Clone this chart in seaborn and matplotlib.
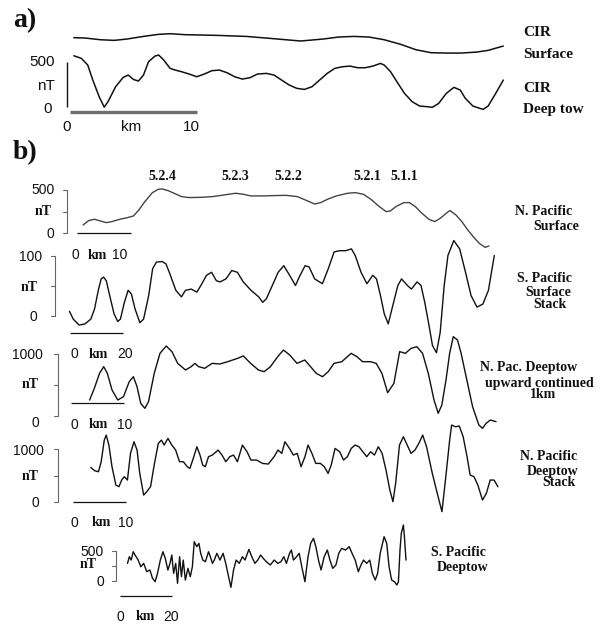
import matplotlib
matplotlib.use("Agg")
import matplotlib.pyplot as plt
import pandas as pd
import seaborn as sns

W, H = 605, 628

# ---------------- a) Central Indian Ridge ----------------
cir_surf_km = [0.3, 1.2, 2.4, 3.5, 4.5, 5.8, 7.0, 7.9, 9.1, 11.5, 13.9, 15.8, 18.2,
               20.0, 21.2, 22.4, 23.6, 24.8, 26.1, 27.3, 28.5, 29.7, 30.9, 32.1, 33.0, 34.2]
cir_surf_nt = [67, 63, 44, 37, 52, 81, 104, 111, 100, 93, 81, 59, 30,
               52, 74, 81, 74, 44, -7, -67, -100, -104, -104, -93, -74, -26]

cir_deep_km = [0.3, 0.9, 1.4, 1.8, 2.3, 2.7, 3.0, 3.6, 4.2, 4.6,
               5.0, 5.4, 5.8, 6.2, 6.7, 7.0, 7.4, 7.9, 8.3, 8.8,
               9.4, 10.0, 10.6, 11.2, 11.8, 12.4, 13.0, 13.6, 14.2, 14.8,
               15.5, 16.1, 16.7, 17.3, 17.9, 18.5, 19.1, 19.7, 20.3, 20.9,
               21.5, 22.1, 22.7, 23.3, 23.9, 24.5, 24.8, 25.3, 25.8, 26.4,
               27.0, 27.6, 28.2, 28.6, 29.1, 29.7, 30.3, 30.8, 31.2, 31.8,
               32.6, 33.0, 33.6, 34.2]
cir_deep_nt = [566, 537, 463, 296, 111, -5, 56, 222, 326, 352,
               303, 285, 352, 500, 562, 574, 518, 426, 407, 389,
               363, 333, 363, 400, 407, 377, 333, 307, 322, 363,
               370, 352, 296, 241, 204, 192, 222, 296, 370, 426,
               444, 451, 433, 433, 451, 481, 463, 389, 278, 148,
               56, 7, 0, -7, 37, 148, 215, 185, 93, 7,
               -30, 7, 148, 296]

# ---------------- b) Pacific profiles ----------------
npac_surf_km = [1.1, 2.1, 3.2, 4.3, 5.4, 6.4, 7.9, 9.3, 10.4, 11.4,
                12.5, 13.9, 15.0, 15.7, 16.8, 17.9, 19.3, 20.7, 22.9, 25.0,
                27.1, 29.3, 30.7, 32.1, 34.3, 36.4, 38.6, 40.7, 42.9, 43.9,
                45.0, 46.4, 47.9, 50.0, 51.4, 52.9, 54.3, 55.7, 57.1, 57.9,
                58.9, 60.4, 61.4, 62.5, 63.6, 65.0, 66.1, 67.1, 68.6, 68.9,
                70.0, 71.1, 72.1, 73.2, 74.3, 75.4, 76.1]
npac_surf_nt = [96, 146, 162, 142, 123, 135, 162, 181, 200, 269,
                365, 469, 508, 512, 492, 462, 423, 412, 415, 423,
                442, 462, 450, 431, 431, 435, 438, 423, 365, 338,
                354, 396, 431, 462, 469, 450, 392, 315, 250, 258,
                308, 354, 354, 308, 238, 162, 135, 173, 250, 262,
                212, 135, 46, -38, -115, -162, -146]

spac_stack_km = [0.0, 1.4, 3.6, 5.8, 8.0, 9.4, 10.9, 11.9, 12.8, 13.8,
                 15.2, 16.7, 18.1, 19.1, 20.6, 22.0, 23.2, 24.6, 26.4, 27.8,
                 29.7, 31.2, 32.6, 34.8, 36.2, 37.7, 39.9, 42.0, 43.5, 45.7,
                 47.8, 49.3, 51.4, 53.3, 55.1, 56.5, 58.7, 60.9, 63.0, 65.2,
                 68.1, 71.0, 72.5, 73.9, 76.1, 78.3, 80.4, 82.6, 84.8, 86.2,
                 88.4, 89.9, 92.0, 94.9, 97.1, 99.3, 101.4, 103.6, 105.8, 107.2,
                 109.4, 111.6, 113.8, 115.2, 116.7, 118.1, 119.6, 121.0, 123.2, 124.6,
                 126.8, 128.3, 130.4, 131.9, 133.3, 134.8, 136.2, 137.7, 139.1, 140.6,
                 142.0, 144.2, 146.4, 148.6, 150.7, 152.9, 155.1, 157.2, 159.4]
spac_stack_nt = [7, -6, -16, -14, -6, 11, 44, 61, 64, 58,
                 31, 3, -10, -6, 22, 42, 36, 11, -12, -6,
                 33, 78, 89, 90, 86, 69, 42, 31, 42, 44,
                 39, 50, 67, 72, 58, 56, 61, 75, 72, 56,
                 42, 31, 22, 28, 50, 72, 83, 67, 50, 64,
                 83, 81, 61, 53, 78, 106, 108, 108, 111, 100,
                 72, 53, 67, 61, 33, 3, -14, 11, 50, 61,
                 50, 44, 56, 50, 22, -14, -50, -62, -28, 50,
                 100, 125, 111, 72, 33, 14, 19, 42, 100]

npac_up_km = [3.5, 4.4, 5.4, 6.2, 6.9, 7.8, 8.9, 10.0, 11.1, 11.9,
              12.6, 13.3, 14.1, 14.8, 15.9, 17.0, 18.2, 19.3, 20.4, 21.9,
              23.0, 23.7, 24.4, 25.6, 27.0, 28.5, 30.0, 31.9, 33.0, 34.4,
              35.9, 37.0, 38.2, 39.6, 40.7, 41.9, 43.3, 44.8, 45.9, 47.0,
              48.2, 49.3, 50.4, 51.9, 53.7, 54.8, 55.9, 57.4, 58.5, 59.6,
              60.7, 61.9, 63.0, 64.1, 65.2, 66.3, 67.4, 68.5, 69.6, 70.4,
              71.1, 71.9, 72.6, 73.3, 74.1, 74.8, 75.9, 77.0, 78.2, 78.9,
              79.6, 80.4, 81.5]
npac_up_nt = [258, 446, 688, 796, 688, 419, 258, 312, 554, 634,
              473, 204, 124, 231, 688, 1011, 1129, 1038, 849, 742,
              796, 849, 796, 769, 849, 839, 876, 930, 968, 849,
              742, 715, 796, 957, 1064, 984, 849, 903, 796, 688,
              634, 715, 849, 876, 1011, 957, 876, 876, 849, 688,
              376, 527, 1038, 1011, 1091, 1118, 1011, 688, 258, 43,
              177, 581, 1011, 1280, 1226, 1011, 581, 151, -145, -199,
              -118, -65, -91]

npac_deep_km = [3.33, 4.07, 4.81, 5.33, 5.93, 6.3, 6.81, 7.41, 8.15, 8.74,
                9.26, 9.78, 10.37, 10.96, 11.63, 12.22, 12.74, 13.48, 14.07, 14.81,
                15.56, 16.3, 16.89, 17.41, 18.15, 18.89, 19.63, 20.37, 21.11, 21.85,
                22.37, 23.11, 23.7, 24.3, 24.81, 25.33, 25.93, 26.67, 27.78, 28.52,
                29.26, 30.0, 30.74, 31.48, 32.44, 33.33, 34.07, 35.19, 36.3, 37.41,
                38.52, 39.26, 40.0, 40.59, 41.48, 42.22, 42.96, 43.7, 44.44, 45.04,
                45.78, 46.52, 47.41, 48.15, 48.89, 49.48, 50.22, 51.11, 51.85, 52.59,
                53.33, 54.07, 54.81, 55.56, 56.3, 57.04, 57.78, 58.52, 59.26, 60.0,
                60.74, 61.33, 61.85, 62.59, 63.33, 64.07, 64.81, 65.56, 66.3, 67.04,
                67.78, 68.89, 70.0, 70.74, 71.48, 72.22, 72.59, 73.33, 74.07, 74.81,
                75.56, 76.15, 76.89, 77.63, 78.52, 79.26, 80.0, 80.74, 81.48]
npac_deep_nt = [656, 592, 573, 764, 1178, 1274, 1083, 669, 318, 287,
                414, 478, 414, 924, 1146, 987, 541, 127, 191, 287,
                732, 1115, 1178, 1083, 1210, 1083, 987, 764, 764, 669,
                637, 860, 1051, 892, 701, 669, 860, 892, 987, 892,
                764, 860, 892, 764, 1083, 955, 796, 796, 732, 720,
                860, 987, 924, 1146, 1019, 892, 924, 669, 860, 1083,
                924, 732, 732, 669, 541, 701, 1019, 955, 796, 860,
                1019, 1083, 1051, 955, 860, 955, 892, 1051, 924, 605,
                223, 0, 350, 1083, 1242, 1083, 924, 987, 1115, 1274,
                1051, 541, 96, -191, 478, 1178, 1465, 1433, 1446, 1242,
                860, 510, 478, 318, 32, 159, 414, 414, 287]

spac_deep_km = [3.0, 3.7, 4.4, 5.2, 5.9, 7.1, 8.1, 9.2, 10.4, 11.6,
                12.6, 13.6, 14.5, 15.6, 16.6, 17.5, 18.5, 19.3, 20.0, 20.7,
                21.5, 22.2, 23.0, 23.7, 24.4, 25.2, 26.2, 27.1, 27.9, 28.6,
                29.6, 30.4, 31.1, 31.9, 32.9, 34.1, 34.8, 35.6, 36.3, 37.3,
                38.5, 39.7, 40.7, 41.8, 42.7, 43.7, 44.7, 45.9, 47.1, 48.1,
                49.6, 50.7, 51.9, 53.0, 54.1, 55.1, 56.3, 57.8, 59.3, 60.7,
                61.9, 63.0, 64.0, 65.2, 65.9, 66.7, 67.9, 68.9, 69.9, 71.1,
                72.3, 73.3, 74.4, 75.3, 76.3, 77.3, 78.5, 79.7, 80.7, 81.8,
                83.0, 84.1, 85.2, 86.7, 88.1, 89.2, 90.4, 91.6, 92.6, 93.6,
                94.8, 96.0, 97.0, 98.1, 99.0, 100.0, 101.5, 102.5, 103.4, 104.4,
                105.5, 106.4, 107.0, 107.6, 108.1, 108.9, 109.3, 109.9]
spac_deep_nt = [289, 400, 344, 483, 428, 344, 233, 289, 150, 178,
                39, -17, 122, 344, 483, 372, 178, 289, 428, 122,
                289, -44, 400, 67, 344, 11, 206, 67, 233, 650,
                567, 622, 456, 344, 317, 483, 400, 289, 344, 456,
                344, 456, 289, 67, -111, 178, 344, 289, 400, 344,
                522, 400, 289, 344, 428, 372, 317, 261, 344, 289,
                317, 400, 289, 456, 511, 344, 400, 456, 233, -17,
                400, 622, 706, 567, 344, 178, 400, 511, 344, 206,
                261, 456, 539, 511, 567, 456, 344, 150, 261, 344,
                289, 344, 122, 11, 122, 456, 733, 622, 233, 11,
                -17, -72, -17, 511, 789, 928, 733, 344]

chron_labels = ["5.2.4", "5.2.3", "5.2.2", "5.2.1", "5.1.1"]

# ---------------- figure ----------------
sns.set_style("white")
plt.rcParams["font.family"] = ["Liberation Sans", "DejaVu Sans"]
SERIF = ["Liberation Serif", "DejaVu Serif"]
SANS = ["Liberation Sans", "DejaVu Sans"]

fig = plt.figure(figsize=(W / 100, H / 100), dpi=100)
fig.patch.set_facecolor("white")


def profile_axes(x0, ppk, y0, ppn):
    """Full-figure transparent axes: km along x, nT up, anchored in pixels."""
    ax = fig.add_axes([0, 0, 1, 1])
    ax.set_xlim(-x0 / ppk, (W - x0) / ppk)
    ax.set_ylim((y0 - H) / ppn, y0 / ppn)
    ax.set_axis_off()
    ax.patch.set_alpha(0)
    ax.geo = (x0, ppk, y0, ppn)
    return ax


def to_km(ax, xp):
    x0, ppk, _, _ = ax.geo
    return (xp - x0) / ppk


def to_nt(ax, yp):
    _, _, y0, ppn = ax.geo
    return (y0 - yp) / ppn


def trace(ax, km, nt, offset=0, color="#111111", lw=1.0):
    df = pd.DataFrame({"km": km, "nT": [v + offset for v in nt]})
    sns.lineplot(data=df, x="km", y="nT", ax=ax, sort=False, estimator=None,
                 color=color, linewidth=lw, legend=False)


def nt_bar(ax, xp, top, ticks=True, color="#666666", lw=0.8):
    xb = to_km(ax, xp)
    ax.plot([xb, xb], [0, top], color=color, lw=lw, solid_capstyle="butt")
    if ticks:
        tl = 4 / ax.geo[1]
        for v in (0, top / 2, top):
            ax.plot([xb - tl, xb], [v, v], color=color, lw=lw)


def km_bar(ax, yp, length, color="#111111", lw=0.9):
    yb = to_nt(ax, yp)
    ax.plot([0, length], [yb, yb], color=color, lw=lw, solid_capstyle="butt")


def txt(x, y, s, size=10, ha="center", bold=False, serif=False, color="#111111"):
    fig.text(x / W, 1 - y / H, s, ha=ha, va="center", fontsize=size,
             fontweight="bold" if bold else "normal",
             family=SERIF if serif else SANS, color=color)


# ---- a) ----
ax_a = profile_axes(70, 12.67, 106.7, 0.09)
trace(ax_a, cir_surf_km, cir_surf_nt, offset=700, color="#111111", lw=1.1)
trace(ax_a, cir_deep_km, cir_deep_nt, color="#111111", lw=1.1)
nt_bar(ax_a, 67, 500, ticks=False, color="#111111", lw=1.0)
km_bar(ax_a, 112.3, 10, color="#6e6e6e", lw=2.4)

txt(25, 21, "a)", size=20, bold=True, serif=True)
for y, s in [(33, "CIR"), (55, "Surface"), (88, "CIR"), (110, "Deep tow")]:
    txt(523, y, s, size=11, ha="left", bold=True, serif=True)
txt(55, 62, "500", size=11, ha="right")
txt(55, 86, "nT", size=11, ha="right")
txt(52, 109, "0", size=11, ha="right")
txt(67, 127, "0", size=11)
txt(131, 127, "km", size=11)
txt(191, 127, "10", size=11)

# ---- b) ----
txt(25, 153, "b)", size=20, bold=True, serif=True)
for xc, s in zip([162, 235, 288, 367, 404], chron_labels):
    txt(xc, 177, s, size=10, bold=True, serif=True)

profiles = [
    # geometry, km, nT, colour, nT bar height, bar x, km-bar y, km length,
    # left labels, km labels, right labels
    dict(geo=(77.2, 5.41, 233.3, 0.0867), km=npac_surf_km, nt=npac_surf_nt, color="#444444",
         top=500, vx=67, hy=233.3, klen=10,
         left=[(55, 190, "500"), (52, 212, "nT"), (54, 234, "0")],
         kl=[(75, 255, "0"), (97, 255, "km"), (120, 255, "10")],
         right=[(544, 212, "N. Pacific"), (556, 226, "Surface")]),
    dict(geo=(69.5, 2.665, 315.5, 0.6), km=spac_stack_km, nt=spac_stack_nt, color="#111111",
         top=100, vx=55, hy=332.7, klen=20,
         left=[(42, 257, "100"), (38, 287, "nT"), (37, 317, "0")],
         kl=[(74, 354, "0"), (98, 354, "km"), (125, 354, "20")],
         right=[(544, 278, "S. Pacific"), (548, 292, "Surface"), (550, 305, "Stack")]),
    dict(geo=(71.4, 5.21, 416.0, 0.062), km=npac_up_km, nt=npac_up_nt, color="#111111",
         top=1000, vx=57.5, hy=403.3, klen=10,
         left=[(43, 355, "1000"), (39, 385, "nT"), (39, 423, "0")],
         kl=[(74, 425, "0"), (98, 425, "km"), (125, 425, "10")],
         right=[(529, 368, "N. Pac. Deeptow"), (539, 383, "upward continued"), (543, 395, "1km")]),
    dict(geo=(73.4, 5.21, 501.7, 0.0523), km=npac_deep_km, nt=npac_deep_nt, color="#111111",
         top=1000, vx=58, hy=501.7, klen=10,
         left=[(44, 451, "1000"), (39, 477, "nT"), (39, 503, "0")],
         kl=[(74, 523, "0"), (101, 523, "km"), (126, 523, "10")],
         right=[(549, 457, "N. Pacific"), (553, 471, "Deeptow"), (559, 483, "Stack")]),
    dict(geo=(119.7, 2.605, 580.7, 0.06), km=spac_deep_km, nt=spac_deep_nt, color="#111111",
         top=500, vx=116, hy=596, klen=20,
         left=[(104, 552, "500"), (97, 564, "nT"), (104, 582, "0")],
         kl=[(120, 617, "0"), (145, 617, "km"), (171, 617, "20")],
         right=[(458, 553, "S. Pacific"), (463, 567, "Deeptow")]),
]

for p in profiles:
    ax = profile_axes(*p["geo"])
    trace(ax, p["km"], p["nt"], color=p["color"], lw=1.0)
    nt_bar(ax, p["vx"], p["top"])
    km_bar(ax, p["hy"], p["klen"])
    for x, y, s in p["left"]:
        if s == "nT":
            txt(x, y, s, size=10, ha="right", bold=True, serif=True)
        else:
            txt(x, y, s, size=10, ha="right")
    for x, y, s in p["kl"]:
        if s == "km":
            txt(x, y, s, size=10, bold=True, serif=True)
        else:
            txt(x, y, s, size=10)
    for x, y, s in p["right"]:
        txt(x, y, s, size=10, bold=True, serif=True)

fig.savefig("out.png", dpi=100, facecolor="white")
